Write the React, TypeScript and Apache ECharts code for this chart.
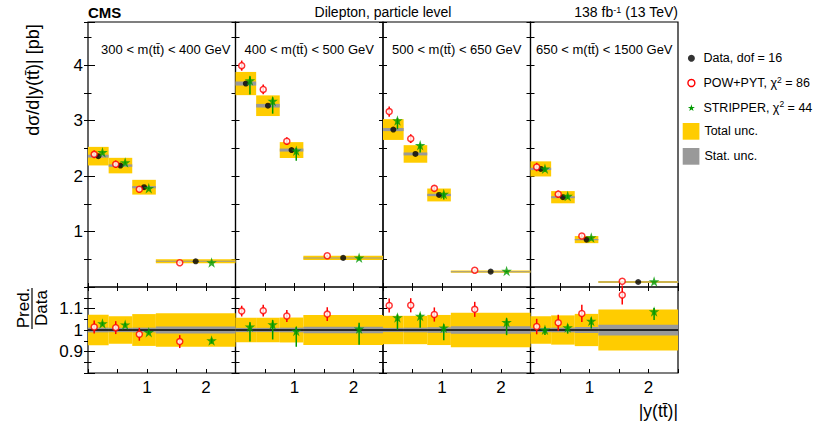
import React, { useEffect, useRef } from 'react';
import * as echarts from 'echarts';

// ---------------- data ----------------
const binEdges = [0, 0.35, 0.75, 1.15, 2.5];
const massBins = [
  '300 < m(tt\u0304) < 400 GeV',
  '400 < m(tt\u0304) < 500 GeV',
  '500 < m(tt\u0304) < 650 GeV',
  '650 < m(tt\u0304) < 1500 GeV',
];
const dataValues = [
  [2.36, 2.19, 1.8, 0.463],
  [3.67, 3.27, 2.47, 0.525],
  [2.84, 2.4, 1.66, 0.277],
  [2.13, 1.62, 0.855, 0.09],
];
const totalUnc = [
  [0.071, 0.064, 0.074, 0.078],
  [0.057, 0.057, 0.058, 0.07],
  [0.066, 0.066, 0.07, 0.08],
  [0.064, 0.068, 0.075, 0.095],
];
const statUnc = [
  [0.011, 0.01, 0.011, 0.016],
  [0.01, 0.01, 0.011, 0.015],
  [0.01, 0.011, 0.013, 0.018],
  [0.01, 0.011, 0.014, 0.025],
];
const powRatio = [
  [1.014, 1.011, 0.98, 0.946],
  [1.088, 1.09, 1.065, 1.074],
  [1.114, 1.115, 1.072, 1.096],
  [1.016, 1.034, 1.077, 1.163],
];
const powErr = [
  [0.03, 0.03, 0.03, 0.03],
  [0.025, 0.027, 0.028, 0.032],
  [0.033, 0.033, 0.033, 0.035],
  [0.036, 0.037, 0.04, 0.044],
];
const stripRatio = [
  [1.03, 1.025, 0.99, 0.951],
  [1.015, 1.026, 0.995, 1.006],
  [1.058, 1.065, 1.011, 1.036],
  [1.001, 1.012, 1.042, 1.086],
];
const stripErrUp = [
  [0.008, 0.008, 0.008, 0.01],
  [0.021, 0.02, 0.02, 0.028],
  [0.014, 0.012, 0.016, 0.019],
  [0.013, 0.014, 0.016, 0.016],
];
const stripErrDown = [
  [0.01, 0.01, 0.01, 0.014],
  [0.069, 0.07, 0.073, 0.075],
  [0.056, 0.055, 0.059, 0.06],
  [0.024, 0.029, 0.035, 0.04],
];
const chi2Values = [86, 44];
const dof = 16;
const xTickLabels = [1, 2];
const yTopTickLabels = [1, 2, 3, 4];
const yRatioTickLabels = [0.9, 1, 1.1];

// ---------------- styling ----------------
const FONT = '"Liberation Sans", Arial, Helvetica, sans-serif';
const STAR =
  'path://M0,-10L2.245,-3.09L9.51,-3.09L3.633,1.18L5.878,8.09L0,3.82L-5.878,8.09L-3.633,1.18L-9.51,-3.09L-2.245,-3.09Z';
const C_TOTAL = '#ffcc00';
const C_STAT = '#999999';
const C_POW = '#ff0000';
const C_STRIP = '#009a00';

const DATA_NAME = `Data, dof = ${dof}`;
const POW_NAME = 'POW+PYT';
const STRIP_NAME = 'STRIPPER';
const TOT_NAME = 'Total unc.';
const STAT_NAME = 'Stat. unc.';

function boxRender(color: string, minH: number) {
  return (_p: any, api: any) => {
    const lo = api.value(0);
    const hi = api.value(1);
    const c = api.value(2);
    const e = api.value(3);
    const a = api.coord([lo, c + e]);
    const b = api.coord([hi, c - e]);
    let y = a[1];
    let h = b[1] - a[1];
    if (h < minH) {
      y = (a[1] + b[1]) / 2 - minH / 2;
      h = minH;
    }
    return {
      type: 'rect',
      shape: { x: a[0], y, width: b[0] - a[0], height: h },
      style: { fill: color },
    };
  };
}

function errRender(color: string) {
  return (_p: any, api: any) => {
    const x = api.value(0);
    const y = api.value(1);
    const a = api.coord([x, y + api.value(2)]);
    const b = api.coord([x, y - api.value(3)]);
    return {
      type: 'line',
      shape: { x1: a[0], y1: a[1], x2: b[0], y2: b[1] },
      style: { stroke: color, lineWidth: 1.5 },
    };
  };
}

function buildOption() {
  const L = 88;
  const W = 147.5;
  const T = 22;
  const H = 265;
  const RT = 287;
  const RH = 86;

  const fmt = (list: number[]) => (v: number) => {
    const m = list.find((t) => Math.abs(t - v) < 1e-6);
    return m === undefined ? '' : String(m);
  };

  const grid: any[] = [];
  const xAxis: any[] = [];
  const yAxis: any[] = [];
  const series: any[] = [];

  for (let row = 0; row < 2; row++) {
    for (let p = 0; p < 4; p++) {
      const g = row * 4 + p;
      grid.push({
        left: L + p * W,
        top: row ? RT : T,
        width: W,
        height: row ? RH : H,
        show: true,
        borderColor: '#000',
        borderWidth: 1.2,
        backgroundColor: 'rgba(0,0,0,0)',
      });
      for (const pos of ['bottom', 'top']) {
        xAxis.push({
          type: 'value',
          gridIndex: g,
          position: pos,
          min: 0,
          max: 2.5,
          interval: 0.5,
          axisLine: { show: false },
          splitLine: { show: false },
          axisTick: { show: true, inside: true, length: 4, lineStyle: { color: '#000', width: 1 } },
          axisLabel: {
            show: row === 1 && pos === 'bottom',
            formatter: fmt(xTickLabels),
            fontSize: 17,
            fontFamily: FONT,
            color: '#000',
            margin: 6,
          },
        });
      }
      for (const pos of ['left', 'right']) {
        const main = pos === 'left' && p === 0;
        yAxis.push({
          type: 'value',
          gridIndex: g,
          position: pos,
          min: row ? 0.8 : 0,
          max: row ? 1.2 : 4.78,
          interval: row ? 0.1 : 1,
          axisLine: { show: false },
          splitLine: { show: false },
          axisTick: { show: true, inside: true, length: main ? 7 : 4, lineStyle: { color: '#000', width: 1 } },
          minorTick: { show: true, splitNumber: 2, length: main ? 3.5 : 4, lineStyle: { color: '#000', width: 1 } },
          axisLabel: {
            show: main,
            formatter: fmt(row ? yRatioTickLabels : yTopTickLabels),
            fontSize: 17,
            fontFamily: FONT,
            color: '#000',
            margin: 5,
          },
        });
      }
    }
  }

  for (let p = 0; p < 4; p++) {
    const d = dataValues[p];
    const lo = (i: number) => binEdges[i];
    const hi = (i: number) => binEdges[i + 1];
    const mid = (i: number) => (lo(i) + hi(i)) / 2;
    const w = (i: number) => hi(i) - lo(i);
    const xPow = (i: number) => mid(i) - 0.2 * w(i);
    const xStrip = (i: number) => mid(i) + 0.2 * w(i);

    for (const row of [0, 1]) {
      const idx = row * 4 + p;
      const ax = { xAxisIndex: idx * 2, yAxisIndex: idx * 2 };
      const base = (i: number) => (row ? 1 : d[i]);
      series.push({
        type: 'custom', name: TOT_NAME, ...ax, z: 1, itemStyle: { color: C_TOTAL },
        renderItem: boxRender(C_TOTAL, row ? 0 : 2),
        data: d.map((_v, i) => [lo(i), hi(i), base(i), base(i) * totalUnc[p][i]]),
      });
      series.push({
        type: 'custom', name: STAT_NAME, ...ax, z: 2, itemStyle: { color: C_STAT },
        renderItem: boxRender(C_STAT, row ? 0 : 1),
        data: d.map((_v, i) => [lo(i), hi(i), base(i), base(i) * statUnc[p][i]]),
      });
      if (row === 1) {
        series.push({
          type: 'line', name: 'ratio one', ...ax, z: 3, symbol: 'none', silent: true,
          lineStyle: { color: '#000', width: 1.3 },
          data: [[binEdges[0], 1], [binEdges[binEdges.length - 1], 1]],
        });
      }
      series.push({
        type: 'custom', name: POW_NAME, ...ax, z: 4,
        renderItem: errRender(C_POW),
        data: d.map((_v, i) => [xPow(i), base(i) * powRatio[p][i], base(i) * powErr[p][i], base(i) * powErr[p][i]]),
      });
      series.push({
        type: 'custom', name: STRIP_NAME, ...ax, z: 4,
        renderItem: errRender(C_STRIP),
        data: d.map((_v, i) => [xStrip(i), base(i) * stripRatio[p][i], base(i) * stripErrUp[p][i], base(i) * stripErrDown[p][i]]),
      });
      if (row === 0) {
        series.push({
          type: 'scatter', name: DATA_NAME, ...ax, z: 5, symbol: 'circle', symbolSize: 6,
          itemStyle: { color: '#000' },
          data: d.map((v, i) => [mid(i), v]),
        });
      }
      series.push({
        type: 'scatter', name: POW_NAME, ...ax, z: 6, symbol: 'circle', symbolSize: 6,
        itemStyle: { color: '#fff', borderColor: C_POW, borderWidth: 1.5 },
        data: d.map((_v, i) => [xPow(i), base(i) * powRatio[p][i]]),
      });
      series.push({
        type: 'scatter', name: STRIP_NAME, ...ax, z: 6, symbol: STAR, symbolSize: 10.5,
        itemStyle: { color: C_STRIP },
        data: d.map((_v, i) => [xStrip(i), base(i) * stripRatio[p][i]]),
      });
    }
  }

  const legendLabels: Record<string, string> = {
    [POW_NAME]: `${POW_NAME}, \u03c7{sup|2} = ${chi2Values[0]}`,
    [STRIP_NAME]: `${STRIP_NAME}, \u03c7{sup|2} = ${chi2Values[1]}`,
  };
  const legendText = {
    fontFamily: FONT,
    fontSize: 12.5,
    color: '#000',
    lineHeight: 16,
    rich: { sup: { fontFamily: FONT, fontSize: 8.5, verticalAlign: 'top', lineHeight: 11, color: '#000' } },
  };

  const legend = [
    {
      orient: 'vertical', left: 687.2, top: 50.3, padding: 0, itemGap: 8.7,
      itemWidth: 7, itemHeight: 7, selectedMode: false,
      formatter: (n: string) => legendLabels[n] ?? n,
      textStyle: { ...legendText, padding: [0, 0, 0, 3.5] },
      data: [
        { name: DATA_NAME, icon: 'circle', itemStyle: { color: '#000' } },
        { name: POW_NAME, icon: 'circle', itemStyle: { color: '#fff', borderColor: C_POW, borderWidth: 1.4 } },
        { name: STRIP_NAME, icon: STAR, itemStyle: { color: C_STRIP } },
      ],
    },
    {
      orient: 'vertical', left: 682.7, top: 123, padding: 0, itemGap: 8.3,
      itemWidth: 16.7, itemHeight: 16.7, selectedMode: false,
      textStyle: legendText,
      data: [
        { name: TOT_NAME, icon: 'rect', itemStyle: { color: C_TOTAL } },
        { name: STAT_NAME, icon: 'rect', itemStyle: { color: C_STAT } },
      ],
    },
  ];

  const txt = (x: number, y: number, text: string, size: number, align: string, extra: any = {}) => ({
    type: 'text', x, y, ...extra,
    style: {
      text, fontSize: size, fontFamily: FONT, fill: '#000', align, verticalAlign: 'middle',
      ...(extra.style || {}),
    },
  });

  const graphic: any[] = [
    txt(88, 12, 'CMS', 15, 'left', { style: { fontWeight: 'bold' } }),
    txt(L + 2 * W, 12, 'Dilepton, particle level', 14, 'center'),
    txt(L + 4 * W, 12, '138 fb{sup|-1} (13 TeV)', 14, 'right', {
      style: { rich: { sup: { fontFamily: FONT, fontSize: 9, verticalAlign: 'top', fill: '#000' } } },
    }),
    txt(33, 80, 'd\u03c3/d|y(tt\u0304)| [pb]', 18, 'center', { rotation: Math.PI / 2 }),
    txt(23, 308, 'Pred.', 17, 'center', { rotation: Math.PI / 2 }),
    txt(41, 308, 'Data', 17, 'center', { rotation: Math.PI / 2 }),
    { type: 'line', shape: { x1: 32, y1: 288, x2: 32, y2: 329 }, style: { stroke: '#000', lineWidth: 1.2 } },
    txt(L + 4 * W, 411, '|y(tt\u0304)|', 17.5, 'right'),
    ...massBins.map((m, p) => txt(L + (p + 0.5) * W + (p === 0 ? 4 : 0), 49, m, 13, 'center')),
  ];

  return {
    animation: false,
    backgroundColor: '#fff',
    grid,
    xAxis,
    yAxis,
    series,
    legend,
    graphic,
  };
}

export default function App() {
  const ref = useRef<HTMLDivElement>(null);
  useEffect(() => {
    document.body.style.margin = '0';
    const chart = echarts.init(ref.current as HTMLDivElement, null, { renderer: 'svg' });
    chart.setOption(buildOption() as any);
    return () => chart.dispose();
  }, []);
  return <div ref={ref} style={{ width: 822, height: 425 }} />;
}
